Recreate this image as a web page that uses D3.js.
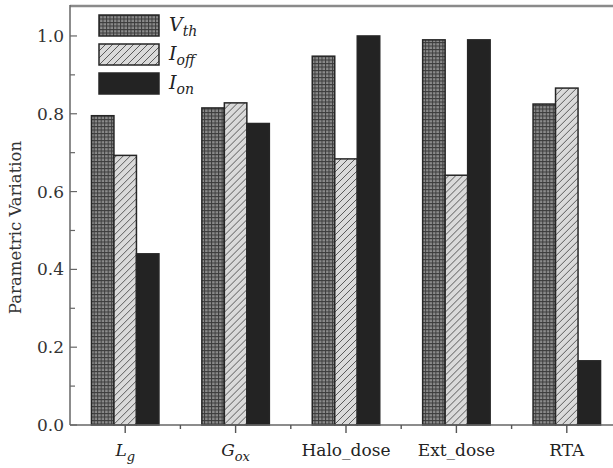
<!DOCTYPE html>
<html>
<head>
<meta charset="utf-8">
<script src="https://cdn.jsdelivr.net/npm/d3@7"></script>
<style>
  body { margin: 0; background: #fff; }
  svg { display: block; font-family: "DejaVu Serif", "Liberation Serif", serif; }
</style>
</head>
<body>
<svg width="613" height="468"></svg>
<script>
// categories and values
var catMain = ["L", "G", "Halo_dose", "Ext_dose", "RTA"];
var catSub = ["g", "ox", "", "", ""];
var vth = [0.795, 0.815, 0.948, 0.99, 0.825];
var ioff = [0.693, 0.828, 0.684, 0.642, 0.866];
var ion = [0.44, 0.775, 1.0, 0.99, 0.165];
var seriesKeys = ["vth", "ioff", "ion"];
var legendMain = ["V", "I", "I"];
var legendSub = ["th", "off", "on"];
var yMajor = [0, 0.2, 0.4, 0.6, 0.8, 1.0];
var yMinor = [0.1, 0.3, 0.5, 0.7, 0.9];

var svg = d3.select("svg");
var margins = { top: 6, left: 70, bottom: 43 };
var plotBottom = 425;

var data = catMain.map(function (c, i) {
  return { cat: c, vth: vth[i], ioff: ioff[i], ion: ion[i] };
});

var x = d3.scaleBand().domain(catMain).range([margins.left, 622]).padding(0);
var xInner = d3.scaleBand().domain(seriesKeys).range([-33.75, 33.75]).padding(0);
var y = d3.scaleLinear().domain([0, 1.077]).range([plotBottom, margins.top]);

// patterns
var defs = svg.append("defs");
var grid = defs.append("pattern")
  .attr("id", "pat-vth").attr("patternUnits", "userSpaceOnUse")
  .attr("width", 3.5).attr("height", 3.5);
grid.append("rect").attr("width", 3.5).attr("height", 3.5).attr("fill", "#8c8c8c");
grid.append("path").attr("d", "M0,0.5H3.5M0.5,0V3.5")
  .attr("stroke", "#3c3c3c").attr("stroke-width", 1);

var hatch = defs.append("pattern")
  .attr("id", "pat-ioff").attr("patternUnits", "userSpaceOnUse")
  .attr("width", 7).attr("height", 7);
hatch.append("rect").attr("width", 7).attr("height", 7).attr("fill", "#dadada");
hatch.append("path").attr("d", "M0,7L7,0M-1,1L1,-1M6,8L8,6")
  .attr("stroke", "#5a5a5a").attr("stroke-width", 1);

var fills = { vth: "url(#pat-vth)", ioff: "url(#pat-ioff)", ion: "#232323" };

// bars
var groups = svg.append("g").selectAll("g").data(data).join("g")
  .attr("transform", function (d) { return "translate(" + (x(d.cat) + x.bandwidth() / 2) + ",0)"; });

groups.selectAll("rect")
  .data(function (d) { return seriesKeys.map(function (k) { return { key: k, value: d[k] }; }); })
  .join("rect")
  .attr("x", function (d) { return xInner(d.key); })
  .attr("width", xInner.bandwidth())
  .attr("y", function (d) { return y(d.value); })
  .attr("height", function (d) { return plotBottom - y(d.value); })
  .attr("fill", function (d) { return fills[d.key]; })
  .attr("stroke", "#262626")
  .attr("stroke-width", 1.5);

// frame
svg.append("line").attr("x1", margins.left).attr("x2", 613)
  .attr("y1", margins.top).attr("y2", margins.top)
  .attr("stroke", "#8a8a8a").attr("stroke-width", 2.5);

// y axis (ticks inside)
var yAxis = svg.append("g").attr("transform", "translate(" + margins.left + ",0)");
yAxis.append("line").attr("y1", margins.top - 1).attr("y2", plotBottom)
  .attr("stroke", "#666").attr("stroke-width", 1.5);
yAxis.selectAll(".maj").data(yMajor).join("line")
  .attr("x1", 0).attr("x2", 7)
  .attr("y1", function (d) { return y(d); }).attr("y2", function (d) { return y(d); })
  .attr("stroke", "#666").attr("stroke-width", 1.2);
yAxis.selectAll(".min").data(yMinor).join("line")
  .attr("x1", 0).attr("x2", 5)
  .attr("y1", function (d) { return y(d); }).attr("y2", function (d) { return y(d); })
  .attr("stroke", "#666").attr("stroke-width", 1.2);
yAxis.selectAll("text").data(yMajor).join("text")
  .attr("x", -6).attr("y", function (d) { return y(d); })
  .attr("dy", "0.35em").attr("text-anchor", "end")
  .attr("font-size", 17).attr("fill", "#333")
  .text(function (d) { return d3.format(".1f")(d); });

svg.append("text")
  .attr("transform", "translate(21," + ((plotBottom + margins.top) / 2 + 12) + ") rotate(-90)")
  .attr("text-anchor", "middle").attr("font-size", 16.5).attr("fill", "#333")
  .text("Parametric Variation");

// x axis (ticks outside)
var xAxis = svg.append("g").attr("transform", "translate(0," + plotBottom + ")");
xAxis.append("line").attr("x1", margins.left).attr("x2", 613)
  .attr("stroke", "#666").attr("stroke-width", 1.5);
xAxis.selectAll(".maj").data(catMain).join("line")
  .attr("x1", function (d) { return x(d) + x.bandwidth() / 2; })
  .attr("x2", function (d) { return x(d) + x.bandwidth() / 2; })
  .attr("y1", 0).attr("y2", 8).attr("stroke", "#555").attr("stroke-width", 1.4);
xAxis.selectAll(".min").data(catMain.slice(1)).join("line")
  .attr("x1", function (d) { return x(d); }).attr("x2", function (d) { return x(d); })
  .attr("y1", 0).attr("y2", 4).attr("stroke", "#555").attr("stroke-width", 1.4);

var xl = xAxis.selectAll("text").data(catMain).join("text")
  .attr("x", function (d) { return x(d) + x.bandwidth() / 2; })
  .attr("y", 31).attr("text-anchor", "middle")
  .attr("font-size", 17).attr("fill", "#222");
xl.append("tspan")
  .attr("font-style", function (d, i) { return catSub[i] ? "italic" : null; })
  .text(function (d) { return d; });
xl.append("tspan").attr("font-style", "italic").attr("font-size", 13).attr("dy", 5)
  .text(function (d, i) { return catSub[i]; });

// legend
var legend = svg.append("g");
var lg = legend.selectAll("g").data(seriesKeys).join("g")
  .attr("transform", function (d, i) { return "translate(99," + (15 + i * 29) + ")"; });
lg.append("rect").attr("width", 60).attr("height", 21)
  .attr("fill", function (d) { return fills[d]; })
  .attr("stroke", "#262626").attr("stroke-width", 1.5);
var lt = lg.append("text").attr("x", 70).attr("y", 16)
  .attr("font-size", 19).attr("font-style", "italic").attr("fill", "#222");
lt.append("tspan").text(function (d, i) { return legendMain[i]; });
lt.append("tspan").attr("font-size", 14).attr("dy", 5)
  .text(function (d, i) { return legendSub[i]; });
</script>
</body>
</html>
